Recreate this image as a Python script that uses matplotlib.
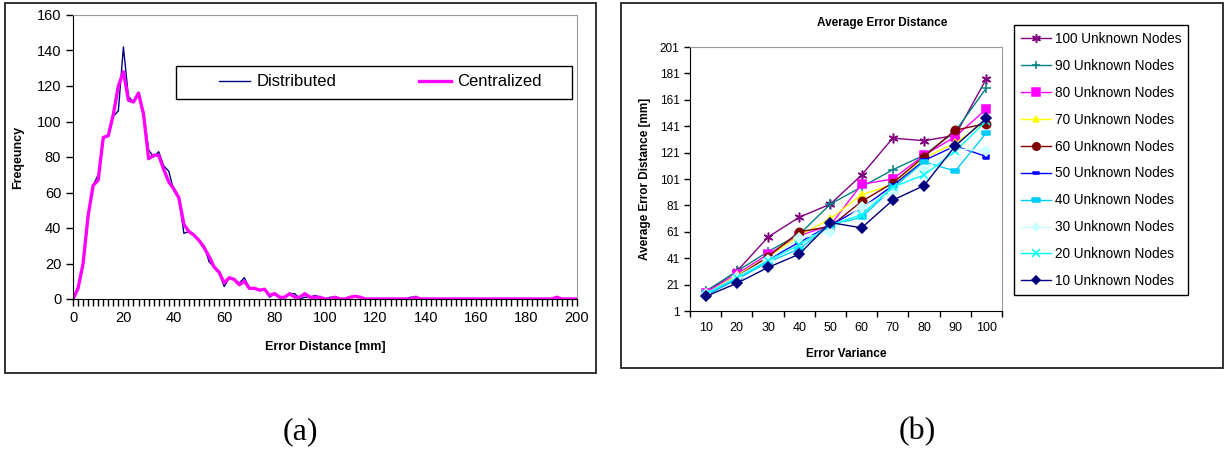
import numpy as np
import matplotlib
matplotlib.use("Agg")
import matplotlib.pyplot as plt
from matplotlib.patches import Rectangle

plt.rcParams['font.family'] = ['Liberation Sans', 'DejaVu Sans']

# ---------------- data (a) ----------------
error_distance = list(range(0, 202, 2))
distributed = [0, 6, 20, 47, 64, 70, 91, 92, 103, 106,
               142, 114, 111, 116, 105, 84, 80, 83, 75, 72,
               61, 57, 37, 38, 36, 33, 30, 21, 18, 15,
               7, 12, 11, 9, 12, 6, 6, 5, 5.5, 1,
               3, 1, 1, 3, 3, 0, 1, 1, 2, 1,
               0, 1, 1, 0, 0, 1, 1.5, 1, 0, 0,
               0, 0, 0, 0, 0, 0, 0, 1, 1, 0,
               0, 0, 0, 0, 0, 0, 0, 0, 0, 0,
               0, 0, 0, 0, 0, 0, 0, 0, 0, 0,
               0, 0, 0, 0, 0, 0, 1, 0, 0, 0, 0]
centralized = [0, 6, 20, 47, 64, 67, 91, 92, 104, 120,
               128, 112, 111, 116, 104, 79, 81, 81, 73, 66,
               62, 57, 42, 38, 36, 33, 29, 24, 18, 15,
               9, 12, 11, 8, 10, 6, 6, 5, 5.5, 2,
               3, 1, 1, 3, 1, 1, 3, 1, 1, 1,
               0, 0, 1, 0, 0, 1, 1.5, 1, 0, 0,
               0, 0, 0, 0, 0, 0, 0, 0, 1, 0,
               0, 0, 0, 0, 0, 0, 0, 0, 0, 0,
               0, 0, 0, 0, 0, 0, 0, 0, 0, 0,
               0, 0, 0, 0, 0, 0, 1, 0, 0, 0, 0]

# ---------------- data (b) ----------------
error_variance = ['10', '20', '30', '40', '50', '60', '70', '80', '90', '100']
series_labels = ['100 Unknown Nodes', '90 Unknown Nodes', '80 Unknown Nodes',
                 '70 Unknown Nodes', '60 Unknown Nodes', '50 Unknown Nodes',
                 '40 Unknown Nodes', '30 Unknown Nodes', '20 Unknown Nodes',
                 '10 Unknown Nodes']
nodes100 = [15, 31, 57, 72, 82, 104, 132, 130, 134, 177]
nodes90 = [16, 31, 46, 59, 82, 95, 108, 119, 137, 170]
nodes80 = [15, 29, 44, 58, 66, 97, 101, 119, 133, 154]
nodes70 = [14, 28, 42, 58, 71, 89, 97, 117, 128, 145]
nodes60 = [14, 27, 42, 61, 65, 84, 98, 118, 138, 143]
nodes50 = [13, 25, 40, 53, 66, 79, 96, 115, 126, 118]
nodes40 = [13, 25, 38, 48, 66, 72, 94, 114, 107, 136]
nodes30 = [14, 27, 40, 56, 61, 80, 91, 108, 124, 122]
nodes20 = [14, 26, 39, 51, 66, 74, 95, 104, 122, 145]
nodes10 = [12, 22, 34, 44, 68, 64, 85, 96, 126, 147]

W, H = 1230, 450
fig = plt.figure(figsize=(W / 100, H / 100), dpi=100)

def fx(px):
    return px / W

def fy(py):
    return 1 - py / H

# outer frames
for (x0, y0, x1, y1) in [(5, 3, 596, 373), (621, 3, 1223, 368)]:
    fig.patches.append(Rectangle((fx(x0), fy(y1)), fx(x1) - fx(x0), fy(y0) - fy(y1),
                                 transform=fig.transFigure, fill=False,
                                 edgecolor='#222222', linewidth=1.3, zorder=0))

# ---------------- panel (a) ----------------
axL = fig.add_axes([fx(73), fy(299), fx(577) - fx(73), fy(15) - fy(299)])
axL.plot(error_distance, distributed, color='#000080', linewidth=1.0, label='Distributed')
axL.plot(error_distance, centralized, color='#FF00FF', linewidth=2.4, label='Centralized')
axL.set_xlim(0, 200)
axL.set_ylim(0, 160)
axL.set_xticks(range(0, 201, 20))
axL.set_xticks([v for v in error_distance if v % 20 != 0], minor=True)
axL.set_yticks(range(0, 161, 20))
axL.tick_params(axis='both', which='major', direction='out', length=5, width=1,
                labelsize=10.5, colors='black')
axL.tick_params(axis='x', which='minor', direction='out', length=5, width=1,
                color='black', bottom=True)
axL.tick_params(axis='y', which='minor', left=False)
for s in ['top', 'right']:
    axL.spines[s].set_color('#999999')
for s in ['left', 'bottom']:
    axL.spines[s].set_color('black')
axL.set_xlabel('Error Distance [mm]', fontsize=9, fontweight='bold', labelpad=12)
axL.set_ylabel('Freqeuncy', fontsize=9, fontweight='bold', labelpad=9)

axL.add_patch(Rectangle((fx(176), fy(99)), fx(572) - fx(176), fy(66) - fy(99),
                        transform=fig.transFigure, fill=True, facecolor='white',
                        edgecolor='black', linewidth=1.0, zorder=4, clip_on=False))
legL = axL.legend(loc='center', bbox_to_anchor=(fx(380), fy(82)),
                  bbox_transform=fig.transFigure, ncol=2, frameon=False,
                  fontsize=12, handlelength=1.9, handletextpad=0.35,
                  columnspacing=5.0)
legL.set_zorder(6)

# ---------------- panel (b) ----------------
axR = fig.add_axes([fx(690), fy(311), fx(1002) - fx(690), fy(47) - fy(311)])
xpos = np.arange(len(error_variance))
series = [nodes100, nodes90, nodes80, nodes70, nodes60,
          nodes50, nodes40, nodes30, nodes20, nodes10]
colors = ['#800080', '#008080', '#FF00FF', '#FFFF00', '#800000',
          '#0000FF', '#00CCFF', '#CCFFFF', '#00FFFF', '#000080']
rect_small = [(-1, -0.5), (1, -0.5), (1, 0.5), (-1, 0.5), (-1, -0.5)]
markers = [(6, 2, 0), '+', 's', '^', 'o', rect_small, rect_small, 'D', 'x', 'D']
msizes = [7, 7, 6, 5.5, 6, 4.5, 6, 5, 6, 5]
for vals, lab, c, m, ms in zip(series, series_labels, colors, markers, msizes):
    axR.plot(xpos, vals, color=c, marker=m, markersize=ms, linewidth=1.0,
             markerfacecolor=c, markeredgecolor=c, markeredgewidth=1.1, label=lab)
axR.set_xlim(-0.5, 9.5)
axR.set_ylim(1, 201)
axR.set_yticks(range(1, 202, 20))
axR.set_xticks(xpos)
axR.set_xticklabels(error_variance)
axR.set_xticks(np.arange(-0.5, 10, 1), minor=True)
axR.tick_params(axis='x', which='major', length=0, labelsize=9, pad=8)
axR.tick_params(axis='x', which='minor', direction='out', length=4, width=1)
axR.tick_params(axis='y', which='major', direction='out', length=4, width=1, labelsize=8.5)
for s in ['top', 'right']:
    axR.spines[s].set_color('#999999')
for s in ['left', 'bottom']:
    axR.spines[s].set_color('black')
axR.set_xlabel('Error Variance', fontsize=8.5, fontweight='bold', labelpad=10)
axR.set_ylabel('Average Error Distance [mm]', fontsize=8.5, fontweight='bold', labelpad=6)
fig.text(fx(882), fy(23), 'Average Error Distance', fontsize=8.5, fontweight='bold',
         ha='center', va='center')

legR = axR.legend(loc='upper left', bbox_to_anchor=(fx(1014), fy(25)),
                  bbox_transform=fig.transFigure, fontsize=9.8, frameon=True,
                  fancybox=False, edgecolor='black', framealpha=1,
                  handlelength=2.2, handletextpad=0.3, labelspacing=0.95,
                  borderpad=0.5, borderaxespad=0, markerscale=0.9)
legR.get_frame().set_linewidth(1.0)

# captions
fig.text(fx(300), fy(432), '(a)', fontsize=23, family=['Liberation Serif', 'DejaVu Serif'],
         ha='center', va='center')
fig.text(fx(917), fy(432), '(b)', fontsize=23, family=['Liberation Serif', 'DejaVu Serif'],
         ha='center', va='center')

fig.savefig('out.png', dpi=100)
